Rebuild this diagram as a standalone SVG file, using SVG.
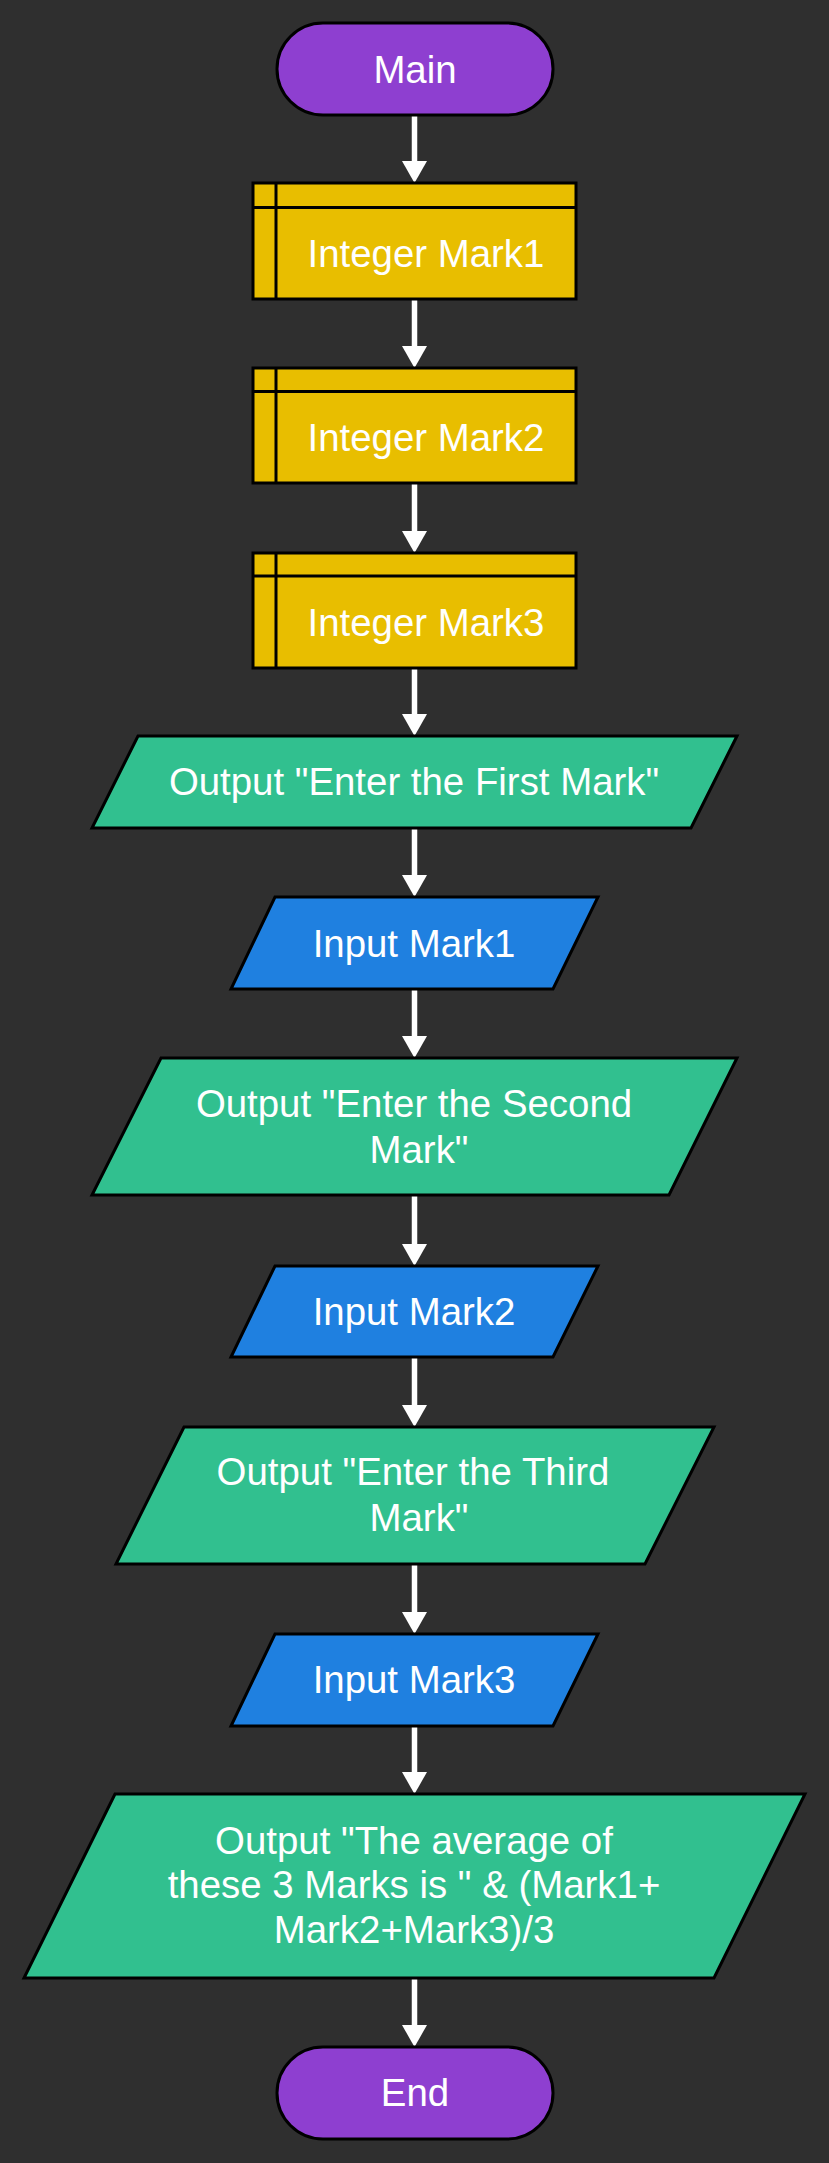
<svg xmlns="http://www.w3.org/2000/svg" width="829" height="2163" viewBox="0 0 829 2163">
<defs>
<style>
.bg{fill:#2f2f2f}
.term{fill:#8e3fd0;stroke:#000;stroke-width:3}
.decl{fill:#e8be00;stroke:#000;stroke-width:3}
.decl-line{stroke:#000;stroke-width:3;fill:none}
.out{fill:#31c08f;stroke:#000;stroke-width:3}
.in{fill:#1f80e0;stroke:#000;stroke-width:3}
.lbl{font-family:"Liberation Sans",Arial,sans-serif;font-size:38.4px;fill:#fff;text-anchor:middle}
.conn{stroke:#fff;stroke-width:5.5;fill:none}
</style>
<marker id="arrow" viewBox="0 0 22 25" refX="0" refY="12.5" markerWidth="22" markerHeight="25" markerUnits="userSpaceOnUse" orient="auto">
<path d="M0,0 L22,12.5 L0,25 z" fill="#fff"/>
</marker>
</defs>
<rect class="bg" x="0" y="0" width="829" height="2163"/>
<g id="connectors">
<line class="conn" x1="414.5" y1="115" x2="414.5" y2="161" marker-end="url(#arrow)"/>
<line class="conn" x1="414.5" y1="299" x2="414.5" y2="346" marker-end="url(#arrow)"/>
<line class="conn" x1="414.5" y1="483" x2="414.5" y2="531" marker-end="url(#arrow)"/>
<line class="conn" x1="414.5" y1="668" x2="414.5" y2="714" marker-end="url(#arrow)"/>
<line class="conn" x1="414.5" y1="828" x2="414.5" y2="875" marker-end="url(#arrow)"/>
<line class="conn" x1="414.5" y1="989" x2="414.5" y2="1036" marker-end="url(#arrow)"/>
<line class="conn" x1="414.5" y1="1195" x2="414.5" y2="1244" marker-end="url(#arrow)"/>
<line class="conn" x1="414.5" y1="1357" x2="414.5" y2="1405" marker-end="url(#arrow)"/>
<line class="conn" x1="414.5" y1="1564" x2="414.5" y2="1612" marker-end="url(#arrow)"/>
<line class="conn" x1="414.5" y1="1726" x2="414.5" y2="1772" marker-end="url(#arrow)"/>
<line class="conn" x1="414.5" y1="1978" x2="414.5" y2="2025" marker-end="url(#arrow)"/>
</g>
<g id="main">
<rect class="term" x="277" y="23" width="276" height="92" rx="46" ry="46"/>
<text class="lbl" x="415" y="83">Main</text>
</g>
<g id="int1">
<rect class="decl" x="253" y="183" width="323" height="116"/>
<path class="decl-line" d="M253,207.5 H576 M276,183 V299"/>
<text class="lbl" x="426" y="267">Integer Mark1</text>
</g>
<g id="int2">
<rect class="decl" x="253" y="368" width="323" height="115"/>
<path class="decl-line" d="M253,391.5 H576 M276,368 V483"/>
<text class="lbl" x="426" y="451">Integer Mark2</text>
</g>
<g id="int3">
<rect class="decl" x="253" y="553" width="323" height="115"/>
<path class="decl-line" d="M253,576 H576 M276,553 V668"/>
<text class="lbl" x="426" y="636">Integer Mark3</text>
</g>
<g id="out1">
<polygon class="out" points="138,736 737,736 691,828 92,828"/>
<text class="lbl" x="414" y="795">Output "Enter the First Mark"</text>
</g>
<g id="in1">
<polygon class="in" points="275,897 598,897 553,989 231,989"/>
<text class="lbl" x="414" y="957">Input Mark1</text>
</g>
<g id="out2">
<polygon class="out" points="161,1058 737,1058 669,1195 92,1195"/>
<text class="lbl" x="414" y="1117">Output "Enter the Second</text>
<text class="lbl" x="419" y="1163">Mark"</text>
</g>
<g id="in2">
<polygon class="in" points="275,1266 598,1266 553,1357 231,1357"/>
<text class="lbl" x="414" y="1325">Input Mark2</text>
</g>
<g id="out3">
<polygon class="out" points="184,1427 714,1427 645,1564 116,1564"/>
<text class="lbl" x="413" y="1485">Output "Enter the Third</text>
<text class="lbl" x="419" y="1531">Mark"</text>
</g>
<g id="in3">
<polygon class="in" points="275,1634 598,1634 553,1726 231,1726"/>
<text class="lbl" x="414" y="1693">Input Mark3</text>
</g>
<g id="out4">
<polygon class="out" points="115,1794 805,1794 714,1978 24,1978"/>
<text class="lbl" x="414" y="1854">Output "The average of</text>
<text class="lbl" x="414" y="1898">these 3 Marks is " &amp; (Mark1+</text>
<text class="lbl" x="414" y="1943">Mark2+Mark3)/3</text>
</g>
<g id="end">
<rect class="term" x="277" y="2047" width="276" height="92" rx="46" ry="46"/>
<text class="lbl" x="415" y="2106">End</text>
</g>
</svg>
